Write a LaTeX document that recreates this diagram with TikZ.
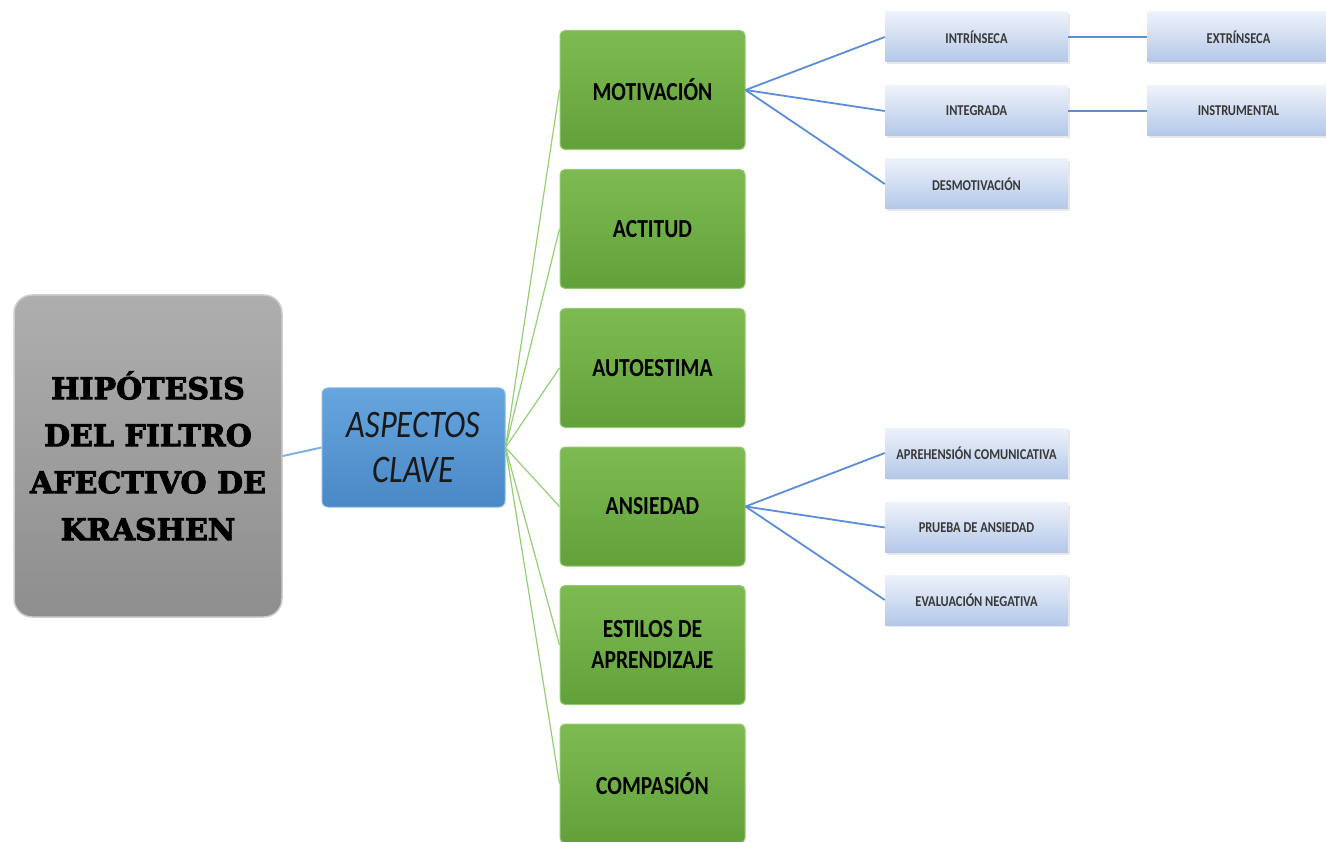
\documentclass[tikz,border=0pt]{standalone}
\usepackage{fontspec}
\newfontfamily\calb[FakeStretch=0.83]{Carlito}
\newfontfamily\slab[FakeStretch=1.0,FakeBold=3]{DejaVu Serif}
\usetikzlibrary{shadows}
\definecolor{greyT}{HTML}{AEAEAE}
\definecolor{greyB}{HTML}{8E8E8E}
\definecolor{blueT}{HTML}{66A6DE}
\definecolor{blueB}{HTML}{4A88C6}
\definecolor{greenT}{HTML}{7DBB52}
\definecolor{greenB}{HTML}{62A13A}
\definecolor{subT}{HTML}{EEF2FA}
\definecolor{subB}{HTML}{B3C8E8}
\definecolor{lineBlue}{HTML}{5B8ED8}
\definecolor{lineLB}{HTML}{7FB2E0}
\definecolor{lineGreen}{HTML}{94CF72}
\begin{document}
\begin{tikzpicture}[x=1pt,y=-1pt,
  greybox/.style={draw=greyT!60!white, line width=1.5pt, rounded corners=18pt,
    top color=greyT, bottom color=greyB, minimum width=268pt, minimum height=322pt,
    align=center, font={\slab\bfseries\fontsize{30}{47}\selectfont}, text=black},
  bluebox/.style={draw=blueT!80!white, line width=1pt, rounded corners=6pt,
    top color=blueT, bottom color=blueB, minimum width=183pt, minimum height=119pt,
    align=center, font={\calb\itshape\fontsize{39}{45}\selectfont}, text=black!90},
  greenbox/.style={draw=greenT!80!white, line width=1pt, rounded corners=5pt,
    top color=greenT, bottom color=greenB, minimum width=185pt, minimum height=119pt,
    align=center, font={\calb\bfseries\fontsize{26}{31}\selectfont}, text=black},
  subbox/.style={draw=none, top color=subT, bottom color=subB,
    minimum width=183pt, minimum height=50pt, align=center,
    font={\calb\bfseries\fontsize{15}{17}\selectfont}, text=black!78,
    drop shadow={opacity=0.18, shadow xshift=1.5pt, shadow yshift=-2pt}},
  rootline/.style={draw=lineLB, line width=2pt},
  gline/.style={draw=lineGreen, line width=1.2pt},
  sline/.style={draw=lineBlue, line width=1.8pt}
]
\useasboundingbox (0,0) rectangle (1326,842);
\fill[white] (0,0) rectangle (1326,842);

\node[greybox] (root) at (148,456) {HIPÓTESIS\\DEL FILTRO\\AFECTIVO DE\\KRASHEN};
\node[bluebox] (asp) at (413.5,447.5) {ASPECTOS\\CLAVE};

\node[greenbox] (g1) at (652.5,90) {MOTIVACIÓN};
\node[greenbox] (g2) at (652.5,229) {ACTITUD};
\node[greenbox] (g3) at (652.5,368) {AUTOESTIMA};
\node[greenbox] (g4) at (652.5,506.5) {ANSIEDAD};
\node[greenbox] (g5) at (652.5,645) {ESTILOS DE\\APRENDIZAJE};
\node[greenbox] (g6) at (652.5,783.5) {COMPASIÓN};

\node[subbox] (m1) at (976.5,37) {INTRÍNSECA};
\node[subbox] (m2) at (976.5,111) {INTEGRADA};
\node[subbox] (m3) at (976.5,184) {DESMOTIVACIÓN};
\node[subbox] (r1) at (1238.5,37) {EXTRÍNSECA};
\node[subbox] (r2) at (1238.5,111) {INSTRUMENTAL};

\node[subbox] (a1) at (976.5,453) {APREHENSIÓN COMUNICATIVA};
\node[subbox] (a2) at (976.5,527.5) {PRUEBA DE ANSIEDAD};
\node[subbox] (a3) at (976.5,600) {EVALUACIÓN NEGATIVA};

\draw[rootline] (root.east) -- (asp.west);
\foreach \g in {g1,g2,g3,g4,g5,g6} \draw[gline] (asp.east) -- (\g.west);
\foreach \m in {m1,m2,m3} \draw[sline] (g1.east) -- (\m.west);
\foreach \a in {a1,a2,a3} \draw[sline] (g4.east) -- (\a.west);
\draw[sline] (m1.east) -- (r1.west);
\draw[sline] (m2.east) -- (r2.west);
\end{tikzpicture}
\end{document}
